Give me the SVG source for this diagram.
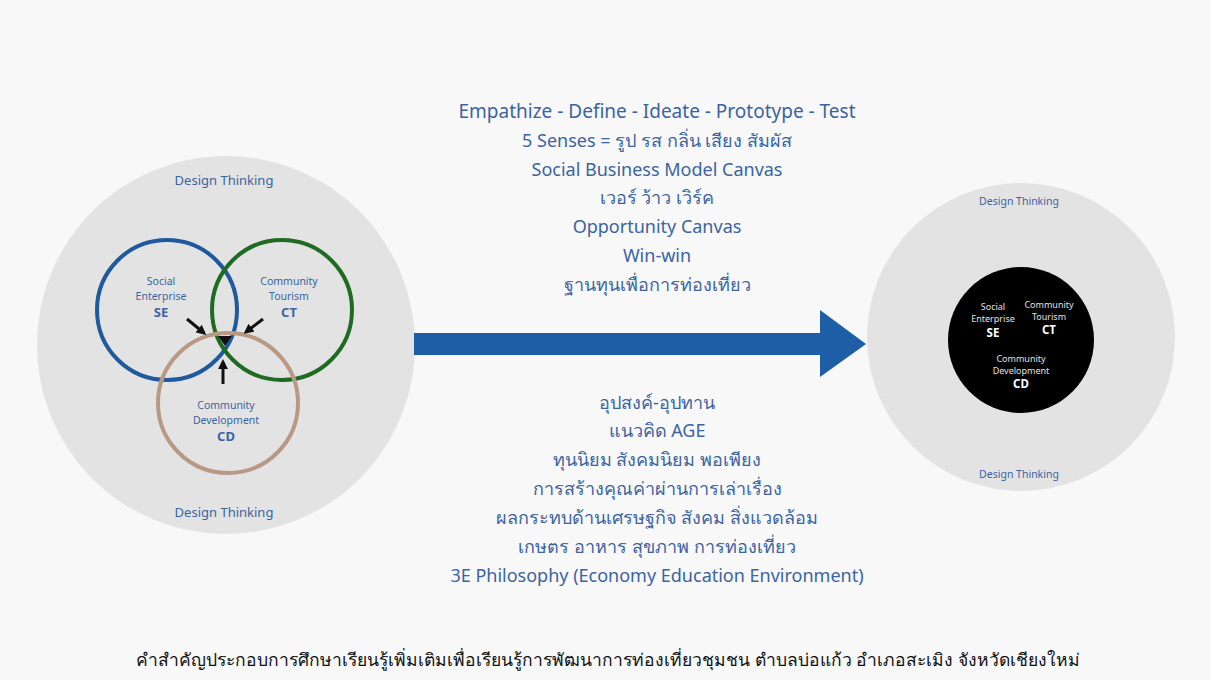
<svg xmlns="http://www.w3.org/2000/svg" width="1211" height="680" viewBox="0 0 1211 680">
<defs>
<style>
.bg{fill:#f8f8f9}
.big{fill:#e3e3e3}
.t{font-family:"Noto Sans","DejaVu Sans",sans-serif;fill:#3b64a0;text-anchor:middle}
.lbl{font-size:10.5px}
.bold{font-size:13px;font-weight:bold}
.dt{font-size:13px}
.mid{font-size:18px}
.cap{font-family:"Noto Sans","DejaVu Sans",sans-serif;font-size:17.5px;fill:#111;text-anchor:middle}
.ring{fill:none;stroke-width:4}
.sa{stroke:#111;stroke-width:3}
</style>
<marker id="ah" viewBox="0 0 10 10" refX="7" refY="5" markerWidth="3.3" markerHeight="3.3" orient="auto">
<path d="M0,0 L10,5 L0,10 z" fill="#111"/>
</marker>
</defs>
<rect class="bg" x="0" y="0" width="1211" height="680"/>

<g id="left-node">
<circle class="big" cx="226" cy="345" r="189"/>
<text class="t dt" x="224" y="185">Design Thinking</text>
<text class="t dt" x="224" y="517">Design Thinking</text>
<circle class="ring" cx="167" cy="310" r="70" stroke="#1f5a9e"/>
<circle class="ring" cx="282" cy="310" r="70" stroke="#1f6b22"/>
<circle class="ring" cx="228" cy="403" r="70" stroke="#b89a84"/>
<polygon points="218,336 232,336 225,346" fill="#111"/>
</g>

<g id="se">
<text class="t lbl" x="161" y="285">Social</text>
<text class="t lbl" x="161" y="300">Enterprise</text>
<text class="t bold" x="161" y="317">SE</text>
</g>
<g id="ct">
<text class="t lbl" x="289" y="285">Community</text>
<text class="t lbl" x="289" y="300">Tourism</text>
<text class="t bold" x="289" y="317">CT</text>
</g>
<g id="cd">
<text class="t lbl" x="226" y="409">Community</text>
<text class="t lbl" x="226" y="424">Development</text>
<text class="t bold" x="226" y="441">CD</text>
</g>

<g id="right-node">
<circle class="big" cx="1021" cy="337" r="154"/>
<text class="t lbl" x="1019" y="205">Design Thinking</text>
<text class="t lbl" x="1019" y="478">Design Thinking</text>
<circle cx="1021" cy="340" r="73" fill="#000"/>
<g font-family="'Noto Sans',sans-serif" text-anchor="middle" fill="#e0e0e0" font-size="9px">
<text x="993" y="310">Social</text>
<text x="993" y="322">Enterprise</text>
<text x="993" y="337" font-size="11.5px" font-weight="bold" fill="#fff">SE</text>
<text x="1049" y="308">Community</text>
<text x="1049" y="320">Tourism</text>
<text x="1049" y="334" font-size="11.5px" font-weight="bold" fill="#fff">CT</text>
<text x="1021" y="362">Community</text>
<text x="1021" y="374">Development</text>
<text x="1021" y="388" font-size="11.5px" font-weight="bold" fill="#fff">CD</text>
</g>
</g>

<g id="connectors">
<line class="sa" x1="187" y1="319" x2="204" y2="333" marker-end="url(#ah)"/>
<line class="sa" x1="263" y1="319" x2="246" y2="332" marker-end="url(#ah)"/>
<line class="sa" x1="223" y1="384" x2="223" y2="362" marker-end="url(#ah)"/>
<polygon points="414,333 820,333 820,310 866,344 820,377 820,355 414,355" fill="#1d5ea6"/>
</g>

<g id="top-text">
<text class="t" x="657" y="118" style="font-size:19px">Empathize - Define - Ideate - Prototype - Test</text>
<text class="t mid" x="657" y="147">5 Senses = รูป รส กลิ่น เสียง สัมผัส</text>
<text class="t mid" x="657" y="176">Social Business Model Canvas</text>
<text class="t mid" x="657" y="204">เวอร์ ว้าว เวิร์ค</text>
<text class="t mid" x="657" y="233">Opportunity Canvas</text>
<text class="t mid" x="657" y="262">Win-win</text>
<text class="t mid" x="657" y="291">ฐานทุนเพื่อการท่องเที่ยว</text>
</g>
<g id="bottom-text">
<text class="t mid" x="657" y="409">อุปสงค์-อุปทาน</text>
<text class="t mid" x="657" y="437">แนวคิด AGE</text>
<text class="t mid" x="657" y="466">ทุนนิยม สังคมนิยม พอเพียง</text>
<text class="t mid" x="657" y="495">การสร้างคุณค่าผ่านการเล่าเรื่อง</text>
<text class="t mid" x="657" y="524">ผลกระทบด้านเศรษฐกิจ สังคม สิ่งแวดล้อม</text>
<text class="t mid" x="657" y="553">เกษตร อาหาร สุขภาพ การท่องเที่ยว</text>
<text class="t mid" x="657" y="582">3E Philosophy (Economy Education Environment)</text>
</g>
<text class="cap" x="608" y="666">คำสำคัญประกอบการศึกษาเรียนรู้เพิ่มเติมเพื่อเรียนรู้การพัฒนาการท่องเที่ยวชุมชน ตำบลบ่อแก้ว อำเภอสะเมิง จังหวัดเชียงใหม่</text>
</svg>
